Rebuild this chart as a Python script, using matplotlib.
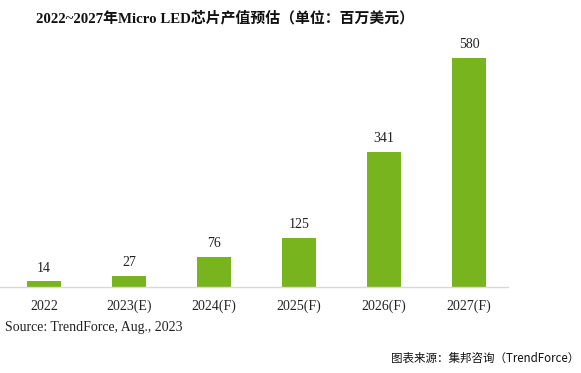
import matplotlib
matplotlib.use("Agg")
import matplotlib.pyplot as plt

years = ["2022", "2023(E)", "2024(F)", "2025(F)", "2026(F)", "2027(F)"]
values = [14, 27, 76, 125, 341, 580]

serif = ["Liberation Serif", "Noto Sans CJK SC"]
cjk = ["Noto Sans CJK SC", "DejaVu Sans"]

W, H = 581, 373
fig = plt.figure(figsize=(W / 100, H / 100), dpi=100)
fig.patch.set_facecolor("white")

# axes placed in pixels: baseline at y=287, right end of axis line at x=508
ax = fig.add_axes([0, 86 / H, 508 / W, 257 / H])
x = list(range(len(years)))
bars = ax.bar(x, values, width=0.4, color="#78b41e")
ax.set_xlim(-44 / 85, (508 - 44) / 85)
ax.set_ylim(0, 257 / 0.395)

for b, v in zip(bars, values):
    ax.annotate(str(v), (b.get_x() + b.get_width() / 2, v), xytext=(0, 5),
                textcoords="offset points", ha="center", va="bottom",
                fontsize=10, family=serif, color="#222222")

ax.set_xticks(x)
ax.set_xticklabels(years, fontsize=10, family=serif, color="#222222")
ax.tick_params(axis="x", length=0, pad=9)
ax.set_yticks([])
for s in ["top", "right", "left"]:
    ax.spines[s].set_visible(False)
ax.spines["bottom"].set_color("#d9d9d9")
ax.spines["bottom"].set_linewidth(1)

fig.text(36 / W, 1 - 18 / H, "2022~2027年Micro LED芯片产值预估（单位：百万美元）",
         ha="left", va="center", fontsize=10.7, fontweight="bold",
         family=serif, color="#111111")
fig.text(5 / W, 1 - 328 / H, "Source: TrendForce, Aug., 2023",
         ha="left", va="center", fontsize=10, family=serif, color="#222222")
fig.text(579 / W, 1 - 358 / H, "图表来源：集邦咨询（TrendForce）",
         ha="right", va="center", fontsize=8.3, fontweight="medium",
         family=cjk, color="#111111")

fig.savefig("out.png", dpi=100)
